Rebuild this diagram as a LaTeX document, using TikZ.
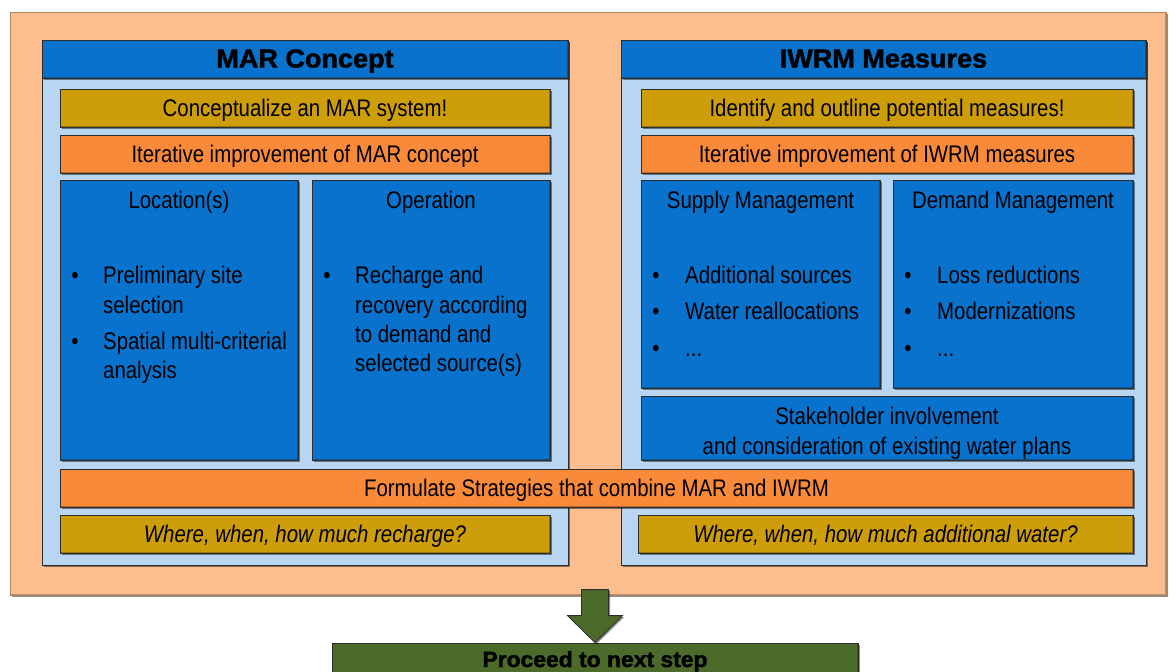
\documentclass[tikz,border=0pt]{standalone}
\usepackage{fontspec}
\setmainfont{Liberation Sans}[FakeStretch=0.85]
\newfontfamily\headfont{Liberation Sans}[FakeStretch=1.04, FakeBold=1.6]
\usetikzlibrary{shadows,calc}
\definecolor{salmon}{RGB}{252,190,142}
\definecolor{paleblue}{RGB}{184,213,242}
\definecolor{deepblue}{RGB}{8,114,204}
\definecolor{gold}{RGB}{205,158,10}
\definecolor{tangerine}{RGB}{249,138,58}
\definecolor{olive}{RGB}{76,106,42}
\definecolor{edge}{RGB}{45,45,45}
\tikzset{
  x=1pt, y=-1pt,
  shade/.style={drop shadow={shadow xshift=1.5pt, shadow yshift=-1.5pt, opacity=0.45, fill=black}},
  bevel/.style={path picture={
      \draw[white, opacity=0.35, line width=2.5pt]
        (path picture bounding box.south west) -- (path picture bounding box.north west)
        -- (path picture bounding box.north east);
      \draw[black, opacity=0.25, line width=2.5pt]
        (path picture bounding box.north east) -- (path picture bounding box.south east)
        -- (path picture bounding box.south west);}},
  frame/.style={draw=salmon!70!black, line width=1pt, fill=salmon, inner sep=0pt, shade, bevel},
  panel/.style={draw=edge, line width=1pt, fill=paleblue, inner sep=0pt, shade},
  bar/.style={draw=edge, line width=0.8pt, inner sep=0pt, text height=19pt, text depth=2pt,
    font=\fontsize{24}{29}\selectfont, shade, bevel},
  header/.style={bar, fill=deepblue, font=\headfont\bfseries\fontsize{26}{30}\selectfont},
  goldbar/.style={bar, fill=gold},
  orangebar/.style={bar, fill=tangerine},
  bluebox/.style={bar, fill=deepblue},
  greenbox/.style={bar, fill=olive},
  txt/.style={inner sep=0pt, anchor=base west, font=\fontsize{24}{29}\selectfont},
  ctxt/.style={txt, anchor=base},
  dot/.style={txt, anchor=base},
}
\begin{document}
\begin{tikzpicture}
\useasboundingbox (0,0) rectangle (1176,672);
\fill[white] (0,0) rectangle (1176,672);

% outer frame
\node[frame, minimum width=1156, minimum height=583] (outer) at (588,303.5) {};

% left column: MAR concept
\node[panel, minimum width=526, minimum height=525] (lpanel) at (305,302.5) {};
\node[header, minimum width=526, minimum height=38] (lhead) at (305,59) {MAR Concept};
\node[goldbar, minimum width=490, minimum height=38] (lgoal) at (305,108) {Conceptualize an MAR system!};
\node[orangebar, minimum width=490, minimum height=38] (liter) at (305,154) {Iterative improvement of MAR concept};
\node[bluebox, minimum width=238, minimum height=280] (loc) at (179,320) {};
\node[bluebox, minimum width=238, minimum height=280] (op) at (431,320) {};

\node[ctxt] (loct) at (179,208.5) {Location(s)};
\node[dot] (locb1) at (75,283.5) {•};
\node[txt] (loc1a) at (103,283.5) {Preliminary site};
\node[txt] (loc1b) at (103,313) {selection};
\node[dot] (locb2) at (75,349.5) {•};
\node[txt] (loc2a) at (103,349.5) {Spatial multi-criterial};
\node[txt] (loc2b) at (103,378.5) {analysis};

\node[ctxt] (opt) at (431,208.5) {Operation};
\node[dot] (opb1) at (327,283.5) {•};
\node[txt] (op1a) at (355,283.5) {Recharge and};
\node[txt] (op1b) at (355,313) {recovery according};
\node[txt] (op1c) at (355,342.5) {to demand and};
\node[txt] (op1d) at (355,371.5) {selected source(s)};

% right column: IWRM measures
\node[panel, minimum width=525, minimum height=525] (rpanel) at (883.5,302.5) {};
\node[header, minimum width=525, minimum height=38] (rhead) at (883.5,59) {IWRM Measures};
\node[goldbar, minimum width=492, minimum height=38] (rgoal) at (887,108) {Identify and outline potential measures!};
\node[orangebar, minimum width=492, minimum height=38] (riter) at (887,154) {Iterative improvement of IWRM measures};
\node[bluebox, minimum width=239, minimum height=208] (sup) at (760.5,284) {};
\node[bluebox, minimum width=240, minimum height=208] (dem) at (1013,284) {};

\node[ctxt] (supt) at (760.5,208.5) {Supply Management};
\node[dot] (supb1) at (656,283.5) {•};
\node[txt] (sup1) at (685,283.5) {Additional sources};
\node[dot] (supb2) at (656,319.5) {•};
\node[txt] (sup2) at (685,319.5) {Water reallocations};
\node[dot] (supb3) at (656,356) {•};
\node[txt] (sup3) at (685,356) {...};

\node[ctxt] (demt) at (1013,208.5) {Demand Management};
\node[dot] (demb1) at (908,283.5) {•};
\node[txt] (dem1) at (937,283.5) {Loss reductions};
\node[dot] (demb2) at (908,319.5) {•};
\node[txt] (dem2) at (937,319.5) {Modernizations};
\node[dot] (demb3) at (908,356) {•};
\node[txt] (dem3) at (937,356) {...};

\node[bluebox, minimum width=492, minimum height=64] (stake) at (887,428) {};
\node[ctxt] (stake1) at (887,424.5) {Stakeholder involvement};
\node[ctxt] (stake2) at (887,454.5) {and consideration of existing water plans};

% joint strategy and outcomes
\node[orangebar, minimum width=1073, minimum height=38] (strat) at (596.5,488) {Formulate Strategies that combine MAR and IWRM};
\node[goldbar, minimum width=490, minimum height=38, font=\itshape\fontsize{24}{29}\selectfont] (lq) at (305,534) {Where, when, how much recharge?};
\node[goldbar, minimum width=495, minimum height=38, font=\itshape\fontsize{24}{29}\selectfont] (rq) at (885.5,534) {Where, when, how much additional water?};

% next step
\node[greenbox, minimum width=526, minimum height=57] (next) at (595,671.5) {};
\node[inner sep=0pt, anchor=base, font=\headfont\bfseries\fontsize{22}{26}\selectfont] (nextt) at (595,667) {Proceed to next step};

\fill[olive, draw=edge, line width=0.8pt, drop shadow={shadow xshift=1.5pt, shadow yshift=-1.5pt, opacity=0.45, fill=black}]
  ($(next.north)+(-13.5,-53)$) -- ($(next.north)+(13.5,-53)$) -- ($(next.north)+(13.5,-27)$)
  -- ($(next.north)+(27.5,-27)$) -- (next.north) -- ($(next.north)+(-27.5,-27)$)
  -- ($(next.north)+(-13.5,-27)$) -- cycle;
\end{tikzpicture}
\end{document}
